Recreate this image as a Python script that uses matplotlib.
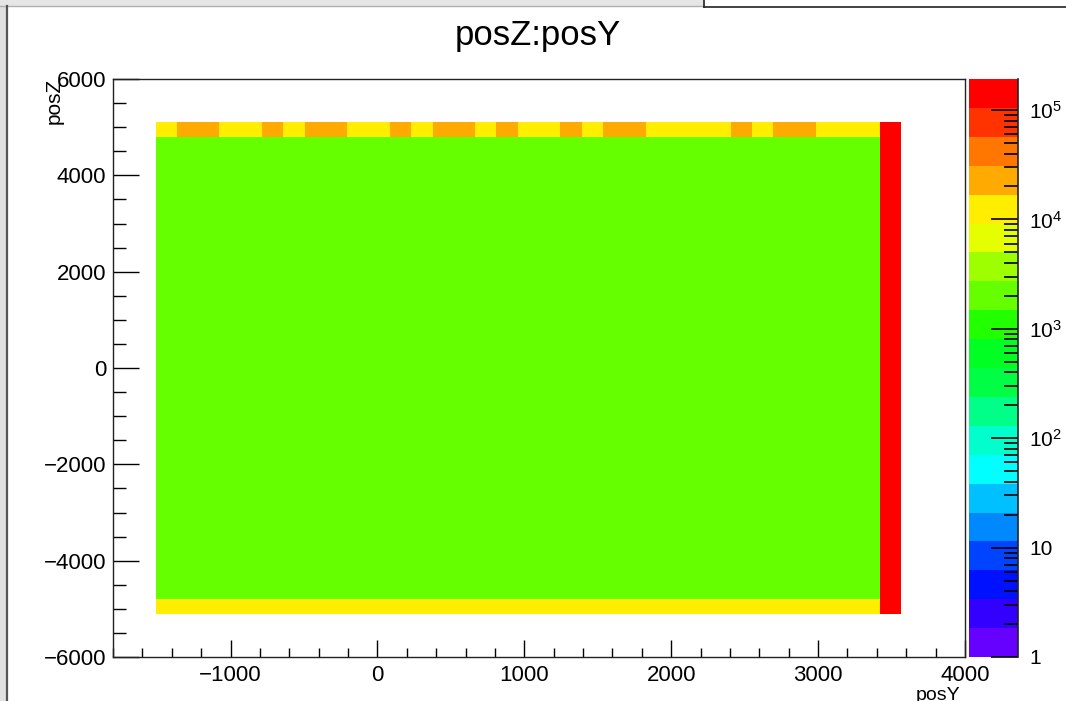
import numpy as np
import matplotlib
matplotlib.use("Agg")
import matplotlib.pyplot as plt
from matplotlib.colors import ListedColormap, LogNorm
from matplotlib.ticker import FixedLocator, NullFormatter, MultipleLocator, LogLocator
from matplotlib.patches import Rectangle
from matplotlib.lines import Line2D

plt.rcParams['font.family'] = ['Liberation Sans', 'DejaVu Sans']
plt.rcParams['mathtext.fontset'] = 'custom'
plt.rcParams['mathtext.rm'] = 'Liberation Sans'
plt.rcParams['mathtext.it'] = 'Liberation Sans:italic'
plt.rcParams['axes.unicode_minus'] = True

# ---------------- data ----------------
title = "posZ:posY"
x_label = "posY"
y_label = "posZ"

x_range = (-1800, 4000)
y_range = (-6000, 6000)
n_bins = 40

# occupied bin index ranges (ROOT default 40x40 binning)
x_first_bin, x_last_bin = 2, 36      # inclusive, last one is the edge column
y_first_bin, y_last_bin = 3, 36

inner_count = 2000
bottom_row_count = 13000
edge_column_count = 150000
top_row_counts = [13000, 22000, 22000, 13000, 13000, 22000, 13000, 22000, 22000, 13000,
                  13000, 22000, 13000, 22000, 22000, 13000, 22000, 13000, 13000, 22000,
                  13000, 22000, 22000, 13000, 13000, 13000, 13000, 22000, 13000, 22000,
                  22000, 13000, 13000, 13000]

z_min, z_max = 1, 1.92e5
palette = ['#6600FF', '#3300FF', '#0011FF', '#0044FF', '#0088FF', '#00C0FF', '#00FFFF',
           '#00FFCC', '#00FF88', '#00FF44', '#00FF22', '#22FF00', '#66FF00', '#9DFF00',
           '#E5FF00', '#FFEE00', '#FFAA00', '#FF7700', '#FF3300', '#FF0000']

# ---------------- build histogram ----------------
x_edges = np.linspace(x_range[0], x_range[1], n_bins + 1)
y_edges = np.linspace(y_range[0], y_range[1], n_bins + 1)
H = np.full((n_bins, n_bins), np.nan)  # [y, x]
H[y_first_bin + 1:y_last_bin, x_first_bin:x_last_bin] = inner_count
H[y_first_bin, x_first_bin:x_last_bin] = bottom_row_count
H[y_last_bin, x_first_bin:x_last_bin] = top_row_counts
H[y_first_bin:y_last_bin + 1, x_last_bin] = edge_column_count
H = np.ma.masked_invalid(H)

W, Hpx = 1066, 701
fig = plt.figure(figsize=(W / 100, Hpx / 100), dpi=100)

def fx(p):
    return p / W

def fy(p):
    return (Hpx - p) / Hpx

ax = fig.add_axes([fx(113), fy(657), fx(965) - fx(113), fy(79) - fy(657)])
cmap = ListedColormap(palette)
norm = LogNorm(vmin=z_min, vmax=z_max)
mesh = ax.pcolormesh(x_edges, y_edges, H, cmap=cmap, norm=norm,
                     edgecolors='none', antialiased=False, rasterized=False)
ax.set_xlim(*x_range)
ax.set_ylim(*y_range)

ax.xaxis.set_major_locator(MultipleLocator(1000))
ax.xaxis.set_minor_locator(MultipleLocator(200))
ax.yaxis.set_major_locator(MultipleLocator(2000))
ax.yaxis.set_minor_locator(MultipleLocator(500))
ax.tick_params(axis='both', which='both', direction='in', top=False, right=False,
               labelsize=16, colors='black', width=1.0)
ax.tick_params(axis='x', which='major', length=12.5, pad=6)
ax.tick_params(axis='x', which='minor', length=6.3)
ax.tick_params(axis='y', which='major', length=18.7, pad=5)
ax.tick_params(axis='y', which='minor', length=9.4)
for s in ax.spines.values():
    s.set_linewidth(1.0)
    s.set_color('#222222')

fig.text(fx(538), fy(45), title, ha='center', va='baseline', fontsize=25)
fig.text(fx(960), fy(700), x_label, ha='right', va='baseline', fontsize=14)
fig.text(fx(54), fy(78), y_label, ha='center', va='top', rotation=90, fontsize=15)

# ---------------- color bar ----------------
cax = fig.add_axes([fx(969), fy(657), fx(1018) - fx(969), fy(79) - fy(657)])
cb = fig.colorbar(mesh, cax=cax)
cb.outline.set_visible(False)
cax.plot([1, 1], [0, 1], transform=cax.transAxes, color='#222222', lw=1.2, clip_on=False)
major = [1, 10, 100, 1000, 10000, 100000]
labels = ['1', '10', r'$\mathregular{10^{2}}$', r'$\mathregular{10^{3}}$',
          r'$\mathregular{10^{4}}$', r'$\mathregular{10^{5}}$']
cax.yaxis.set_major_locator(FixedLocator(major))
cax.set_yticklabels(labels)
cax.yaxis.set_minor_locator(LogLocator(base=10, subs=np.arange(2, 10)))
cax.yaxis.set_minor_formatter(NullFormatter())
cax.yaxis.set_ticks_position('right')
cax.tick_params(axis='y', which='both', direction='in', labelsize=15, width=1.2,
                colors='black')
cax.tick_params(axis='y', which='major', length=19.5, pad=8)
cax.tick_params(axis='y', which='minor', length=10)

# ---------------- screenshot frame artifacts ----------------
fig.patches.append(Rectangle((0, fy(6)), fx(704), 1 - fy(6), transform=fig.transFigure,
                             facecolor='#e6e6e6', edgecolor='none', zorder=-1))
fig.lines.append(Line2D([0, fx(704)], [fy(6), fy(6)], transform=fig.transFigure,
                        color='#b0b0b0', lw=1))
fig.lines.append(Line2D([fx(704), 1], [fy(7), fy(7)], transform=fig.transFigure,
                        color='#222222', lw=1.2))
fig.lines.append(Line2D([fx(704), fx(704)], [fy(7), 1], transform=fig.transFigure,
                        color='#222222', lw=1.2))
fig.patches.append(Rectangle((0, 0), fx(6), fy(6), transform=fig.transFigure,
                             facecolor='#e0e0e0', edgecolor='none', zorder=-1))
fig.lines.append(Line2D([fx(7), fx(7)], [0, fy(6)], transform=fig.transFigure,
                        color='#555555', lw=1.6))

fig.savefig('out.png', dpi=100)
